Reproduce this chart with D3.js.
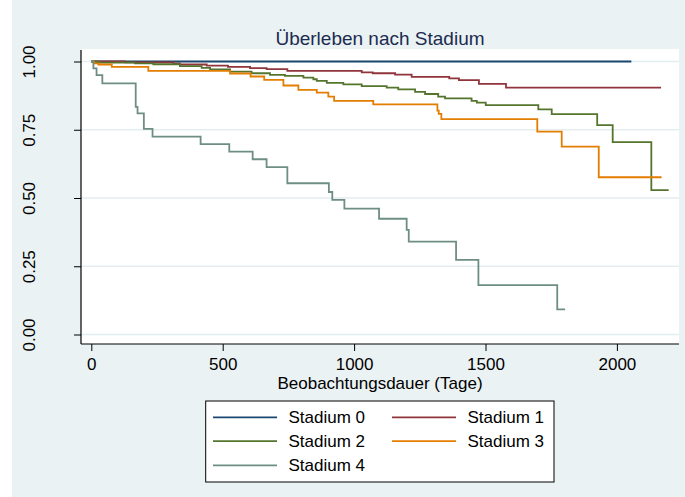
<!DOCTYPE html>
<html>
<head>
<meta charset="utf-8">
<script src="https://cdn.jsdelivr.net/npm/d3@7"></script>
<style>
  html, body { margin: 0; padding: 0; background: #EAF2F3; }
  svg { display: block; font-family: "Liberation Sans", Arial, sans-serif; }
</style>
</head>
<body>
<svg id="chart" width="685" height="497"></svg>
<script>
// Kaplan-Meier survival estimates by stage: [day, survival]
const stadium0 = [[0, 1], [2055, 1]];
const stadium1 = [[0, 1], [128, 0.997], [312, 0.993], [337, 0.989], [439, 0.985], [520, 0.98],
  [604, 0.976], [667, 0.972], [746, 0.966], [1029, 0.96], [1071, 0.957], [1156, 0.952],
  [1219, 0.944], [1362, 0.938], [1399, 0.932], [1475, 0.918], [1578, 0.904], [2168, 0.904]];
const stadium2 = [[0, 1], [20, 0.998], [33, 0.996], [166, 0.993], [236, 0.99], [337, 0.983],
  [420, 0.977], [452, 0.971], [528, 0.963], [610, 0.957], [680, 0.951], [737, 0.947],
  [807, 0.941], [845, 0.935], [858, 0.929], [896, 0.922], [959, 0.916], [1029, 0.91],
  [1124, 0.904], [1168, 0.898], [1232, 0.889], [1270, 0.881], [1320, 0.871], [1346, 0.865],
  [1447, 0.856], [1467, 0.849], [1501, 0.84], [1701, 0.825], [1752, 0.807], [1925, 0.767],
  [1984, 0.705], [2131, 0.529], [2197, 0.529]];
const stadium3 = [[0, 1], [10, 0.993], [27, 0.989], [78, 0.98], [217, 0.966], [528, 0.956],
  [606, 0.945], [658, 0.933], [731, 0.912], [788, 0.896], [858, 0.886], [902, 0.871],
  [924, 0.856], [1073, 0.843], [1317, 0.82], [1322, 0.808], [1332, 0.789], [1697, 0.743],
  [1790, 0.688], [1931, 0.576], [2170, 0.576]];
const stadium4 = [[0, 1], [8, 0.975], [20, 0.95], [42, 0.92], [169, 0.834], [176, 0.81],
  [200, 0.753], [233, 0.725], [416, 0.697], [525, 0.67], [614, 0.642], [667, 0.613],
  [746, 0.554], [904, 0.522], [917, 0.493], [963, 0.461], [1095, 0.424], [1200, 0.383],
  [1208, 0.34], [1388, 0.273], [1473, 0.181], [1773, 0.092], [1803, 0.092]];

const seriesNames = ["Stadium 0", "Stadium 1", "Stadium 2", "Stadium 3", "Stadium 4"];
const seriesColors = ["#1A476F", "#90353B", "#55752F", "#E37E00", "#6E8E84"];
const seriesData = [stadium0, stadium1, stadium2, stadium3, stadium4];

const xTicks = [0, 500, 1000, 1500, 2000];
const yTicks = [0, 0.25, 0.5, 0.75, 1];
const yTickLabels = ["0.00", "0.25", "0.50", "0.75", "1.00"];

const titleText = "Überleben nach Stadium";
const xTitleText = "Beobachtungsdauer (Tage)";

const svg = d3.select("#chart");

// graph region background
svg.append("rect").attr("x", 0).attr("y", 0).attr("width", 685).attr("height", 497).attr("fill", "#EAF2F3");
svg.append("rect").attr("x", 0).attr("y", 0).attr("width", 12).attr("height", 497).attr("fill", "#FFFFFF");

// plot region
const plot = { left: 81, right: 679, top: 49, bottom: 344 };
svg.append("rect")
  .attr("x", plot.left).attr("y", plot.top)
  .attr("width", plot.right - plot.left).attr("height", plot.bottom - plot.top)
  .attr("fill", "#FFFFFF");

const x = d3.scaleLinear().domain([0, 2000]).range([91.3, 616.9]);
const y = d3.scaleLinear().domain([0, 1]).range([334.5, 61.5]);

// grid lines
svg.append("g").selectAll("line").data(yTicks).join("line")
  .attr("x1", plot.left).attr("x2", plot.right)
  .attr("y1", d => y(d)).attr("y2", d => y(d))
  .attr("stroke", "#E4EDEF").attr("stroke-width", 1.5);

// survival curves
const line = d3.line().x(d => x(d[0])).y(d => y(d[1])).curve(d3.curveStepAfter);
svg.append("g").selectAll("path").data(seriesData).join("path")
  .attr("d", d => line(d))
  .attr("fill", "none")
  .attr("stroke", (d, i) => seriesColors[i])
  .attr("stroke-width", 1.8);

// x axis
const xAxis = d3.axisBottom(x).tickValues(xTicks).tickSize(7).tickPadding(7).tickFormat(d3.format("d"));
const gx = svg.append("g").attr("transform", `translate(0,${plot.bottom})`).call(xAxis);
gx.select(".domain").remove();
gx.selectAll("line").attr("stroke", "#000").attr("stroke-width", 1);
gx.selectAll("text").attr("font-size", 17).attr("fill", "#000").attr("font-family", "Liberation Sans, Arial, sans-serif");
svg.append("line").attr("x1", plot.left).attr("x2", plot.right)
  .attr("y1", plot.bottom).attr("y2", plot.bottom).attr("stroke", "#000").attr("stroke-width", 1.2);

// y axis with vertical labels
const yAxis = d3.axisLeft(y).tickValues(yTicks).tickSize(7).tickFormat((d, i) => yTickLabels[i]);
const gy = svg.append("g").attr("transform", `translate(${plot.left},0)`).call(yAxis);
gy.select(".domain").remove();
gy.selectAll("line").attr("stroke", "#000").attr("stroke-width", 1);
gy.selectAll("text")
  .attr("transform", "rotate(-90)")
  .attr("x", 0).attr("y", -46).attr("dy", 0)
  .attr("text-anchor", "middle")
  .attr("font-size", 17).attr("fill", "#000").attr("font-family", "Liberation Sans, Arial, sans-serif");
svg.append("line").attr("x1", plot.left).attr("x2", plot.left)
  .attr("y1", 50).attr("y2", plot.bottom).attr("stroke", "#000").attr("stroke-width", 1.2);

// titles
svg.append("text").attr("x", 380).attr("y", 44.5).attr("text-anchor", "middle")
  .attr("font-size", 19).attr("fill", "#1C2B50").text(titleText);
svg.append("text").attr("x", 380).attr("y", 389).attr("text-anchor", "middle")
  .attr("font-size", 17).attr("fill", "#000").text(xTitleText);

// legend
const legend = svg.append("g");
legend.append("rect").attr("x", 205.7).attr("y", 401).attr("width", 348.3).attr("height", 81)
  .attr("fill", "#FFFFFF").attr("stroke", "#000").attr("stroke-width", 1);
const colX = [213, 392];
const rowY = [417.3, 441.2, 465.3];
const items = legend.selectAll("g.item").data(seriesNames).join("g").attr("class", "item")
  .attr("transform", (d, i) => `translate(${colX[i % 2]},${rowY[Math.floor(i / 2)]})`);
items.append("line").attr("x1", 0).attr("x2", 64).attr("y1", 0).attr("y2", 0)
  .attr("stroke", (d, i) => seriesColors[i]).attr("stroke-width", 1.8);
items.append("text").attr("x", 75.5).attr("y", 0).attr("dy", "0.35em")
  .attr("font-size", 17).attr("fill", "#000").text(d => d);
</script>
</body>
</html>
